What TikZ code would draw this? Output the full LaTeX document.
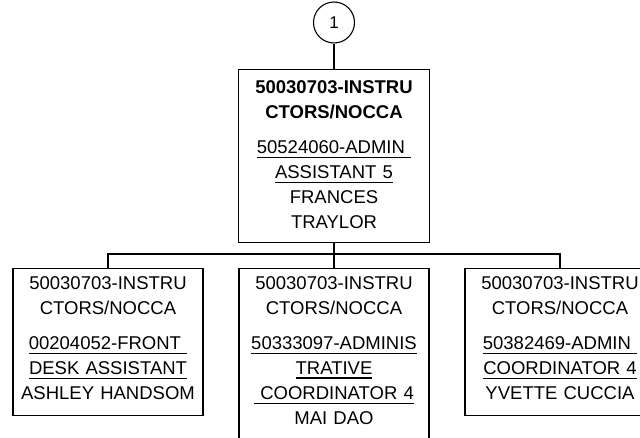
\documentclass[tikz,border=0pt]{standalone}
\usepackage{fontspec}
\setmainfont{Liberation Sans}
\newcommand{\ulpos}[1]{\leavevmode\vtop{\hbox{#1}\kern2.8pt\hrule height 1.2pt}}
\tikzset{
  posbox/.style={draw, line width=1.1pt, anchor=north, align=center, text width=186pt,
    inner xsep=2pt, inner ysep=0pt, text height=21pt, font=\fontsize{18.5}{25}\selectfont},
  bubble/.style={draw, circle, line width=1.1pt, minimum size=41pt, inner sep=0pt,
    font=\fontsize{17}{20}\selectfont},
  link/.style={line width=1.1pt}
}
\begin{document}
\begin{tikzpicture}[x=1pt,y=-1pt]
	\useasboundingbox (0,0) rectangle (640,438);
	\clip (0,0) rectangle (640,438);

	% Off-page connector
	\node[bubble] (c1) at (334,22.5) {1};

	% Manager
	\node[posbox, text width=187pt, text height=24pt, text depth=149pt] (mgr) at (334,69)
		{\textbf{50030703-INSTRU}\\\textbf{CTORS/NOCCA}\\[10pt]\ulpos{50524060-ADMIN\ }\\\ulpos{ASSISTANT 5}\\FRANCES\\TRAYLOR};

	% Staff
	\node[posbox, text depth=126pt] (lft) at (108,268)
		{50030703-INSTRU\\CTORS/NOCCA\\[10pt]\ulpos{00204052-FRONT\ }\\\ulpos{DESK ASSISTANT}\\ASHLEY HANDSOM};
	\node[posbox, text depth=200pt] (mid) at (334,268)
		{50030703-INSTRU\\CTORS/NOCCA\\[10pt]\ulpos{50333097-ADMINIS}\\\ulpos{TRATIVE}\\\ulpos{\ COORDINATOR 4}\\MAI DAO};
	\node[posbox, text depth=126pt] (rgt) at (560,268)
		{50030703-INSTRU\\CTORS/NOCCA\\[10pt]\ulpos{50382469-ADMIN\ }\\\ulpos{COORDINATOR 4}\\YVETTE CUCCIA};

	% Lines
	\coordinate (bus) at (334,254);
	\draw[link] (c1) -- (mgr);
	\draw[link] (mgr) -- (bus);
	\draw[link] (lft.north) |- (bus) -| (rgt.north);
	\draw[link] (bus) -- (mid);
\end{tikzpicture}
\end{document}
